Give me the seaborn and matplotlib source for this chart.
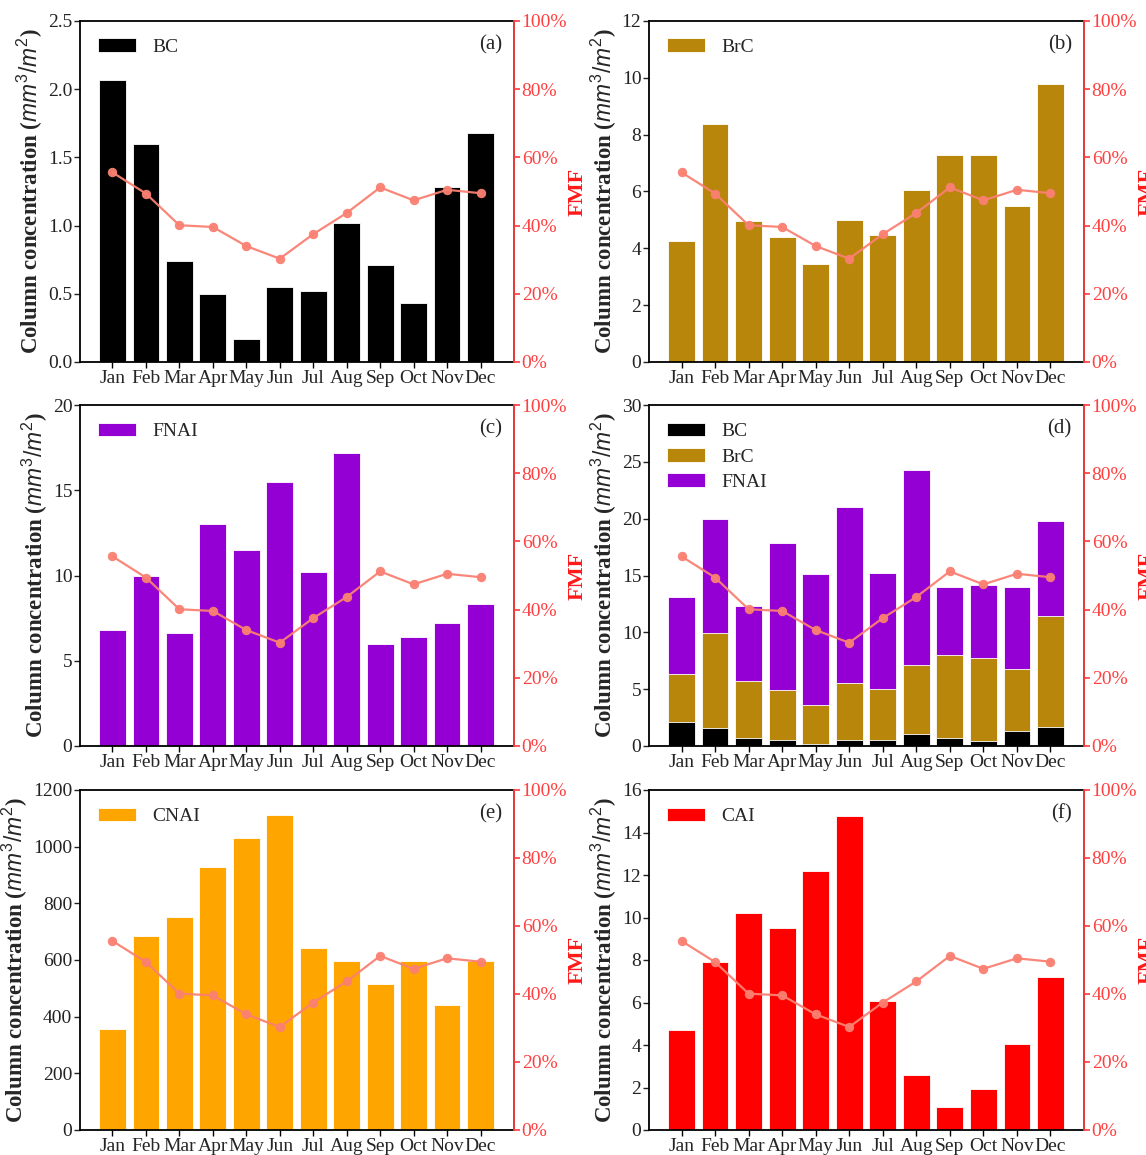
import numpy as np
import pandas as pd
import matplotlib
matplotlib.use("Agg")
import matplotlib.pyplot as plt
import seaborn as sns
from matplotlib.ticker import PercentFormatter, MultipleLocator, FormatStrFormatter

sns.set_theme(style="ticks")
plt.rcParams['font.family'] = ['Liberation Serif', 'DejaVu Serif']
plt.rcParams['mathtext.fontset'] = 'custom'
plt.rcParams['mathtext.it'] = 'Liberation Sans:italic'
plt.rcParams['mathtext.rm'] = 'Liberation Sans'

months = ["Jan", "Feb", "Mar", "Apr", "May", "Jun", "Jul", "Aug", "Sep", "Oct", "Nov", "Dec"]
bc = [2.07, 1.60, 0.74, 0.50, 0.17, 0.55, 0.52, 1.02, 0.71, 0.43, 1.28, 1.68]
brc = [4.25, 8.38, 4.97, 4.40, 3.45, 4.98, 4.48, 6.07, 7.28, 7.30, 5.48, 9.80]
fnai = [6.80, 9.95, 6.60, 13.0, 11.5, 15.5, 10.2, 17.2, 6.00, 6.40, 7.20, 8.30]
cnai = [358, 686, 752, 930, 1032, 1113, 641, 596, 515, 598, 440, 596]
cai = [4.70, 7.90, 10.2, 9.50, 12.2, 14.8, 6.05, 2.60, 1.10, 1.95, 4.05, 7.20]
fmf = [0.556, 0.494, 0.401, 0.396, 0.340, 0.303, 0.375, 0.437, 0.512, 0.474, 0.505, 0.495]

colors = {"BC": "#000000", "BrC": "#B8860B", "FNAI": "#9400D3", "CNAI": "#FFA500", "CAI": "#FF0000"}
line_color = "#FA8072"

W, H = 1146, 1155
fig = plt.figure(figsize=(W / 100, H / 100), dpi=100)

cols = [(80, 514), (649, 1084)]
rows = [(21, 362), (405, 746), (790, 1130)]

def make_ax(r, c):
    l, rr = cols[c]
    t, b = rows[r]
    return fig.add_axes([l / W, 1 - b / H, (rr - l) / W, (b - t) / H])

panels = [
    ("(a)", ["BC"], 2.5, 0.5, "%.1f"),
    ("(b)", ["BrC"], 12, 2, "%d"),
    ("(c)", ["FNAI"], 20, 5, "%d"),
    ("(d)", ["BC", "BrC", "FNAI"], 30, 5, "%d"),
    ("(e)", ["CNAI"], 1200, 200, "%d"),
    ("(f)", ["CAI"], 16, 2, "%d"),
]
series = {"BC": bc, "BrC": brc, "FNAI": fnai, "CNAI": cnai, "CAI": cai}

for i, (tag, comps, ymax, step, fmt) in enumerate(panels):
    ax = make_ax(i // 2, i % 2)
    if len(comps) == 1:
        name = comps[0]
        df = pd.DataFrame({"month": months, "val": series[name]})
        sns.barplot(data=df, x="month", y="val", color=colors[name], saturation=1,
                    width=0.8, edgecolor="white", linewidth=0.6, ax=ax, label=name)
    else:
        cum = np.cumsum([series[c] for c in comps], axis=0)
        for k in range(len(comps) - 1, -1, -1):
            df = pd.DataFrame({"month": months, "val": cum[k]})
            sns.barplot(data=df, x="month", y="val", color=colors[comps[k]], saturation=1,
                        width=0.8, edgecolor="white", linewidth=0.6, ax=ax, label=comps[k])
    ax.set_xlim(-0.97, 12.0)
    ax.set_ylim(0, ymax)
    ax.yaxis.set_major_locator(MultipleLocator(step))
    ax.yaxis.set_major_formatter(FormatStrFormatter(fmt))
    ax.set_xlabel("")
    ax.set_ylabel(r"Column concentration ($mm^3/m^2$)", fontsize=16.5, fontweight="bold",
                  labelpad=2)
    ax.tick_params(axis="both", labelsize=14, length=4, width=1, color="black",
                   direction="out", pad=1.5)
    ax.tick_params(axis="y", colors="#222222", labelcolor="#222222")
    for s in ax.spines.values():
        s.set_linewidth(1.3)
        s.set_color("black")
    handles, labels = ax.get_legend_handles_labels()
    order = [labels.index(c) for c in comps]
    ax.legend([handles[j] for j in order], [labels[j] for j in order], loc="upper left",
              frameon=False, fontsize=14, handlelength=2.0, handleheight=0.7,
              borderaxespad=0.5, borderpad=0.4, labelspacing=0.4, handletextpad=0.8)
    ax.text(0.972, 0.93, tag, transform=ax.transAxes, ha="right", va="center", fontsize=15)

    ax2 = ax.twinx()
    sns.lineplot(x=np.arange(len(months)), y=fmf, ax=ax2, color=line_color, marker="o",
                 markersize=6, markeredgecolor=line_color, linewidth=1.6, alpha=0.95)
    ax2.set_ylim(0, 1)
    ax2.yaxis.set_major_locator(MultipleLocator(0.2))
    ax2.yaxis.set_major_formatter(PercentFormatter(1.0, decimals=0))
    ax2.set_ylabel("FMF", color="#FF1A1A", fontsize=16, fontweight="bold", labelpad=0.5)
    ax2.tick_params(axis="y", colors="#FF4040", labelcolor="#FF4040", labelsize=14,
                    length=4, pad=1.5)
    for s in ax2.spines.values():
        s.set_visible(False)
    ax2.spines["right"].set_visible(True)
    ax2.spines["right"].set_color("#FF4040")
    ax2.spines["right"].set_linewidth(1.3)
    ax.set_xlim(-0.97, 12.0)

fig.savefig("out.png", dpi=100)
